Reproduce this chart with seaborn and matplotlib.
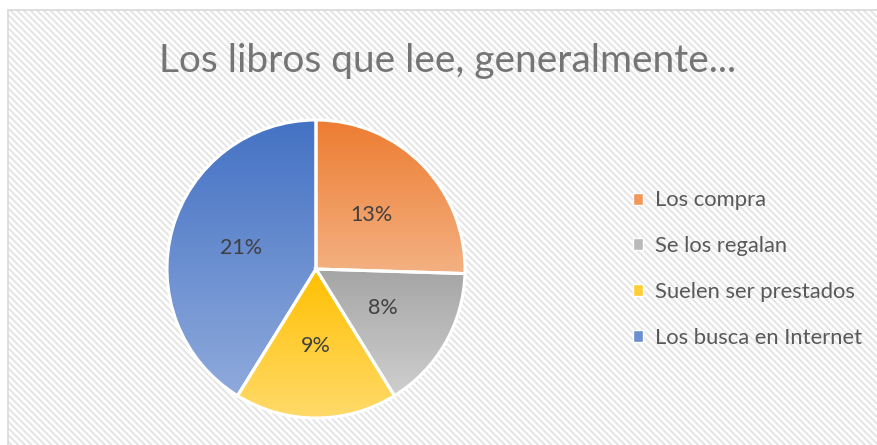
import numpy as np
import matplotlib
matplotlib.use("Agg")
import matplotlib.pyplot as plt
import seaborn as sns
from matplotlib.patches import Rectangle, Patch
from matplotlib.colors import to_rgb

# ---- data ----
categories = ["Los compra", "Se los regalan", "Suelen ser prestados", "Los busca en Internet"]
values = [13, 8, 9, 21]
title = "Los libros que lee, generalmente..."

top_colors = ["#ED7D31", "#A5A5A5", "#FFC000", "#4472C4"]
bottom_colors = ["#F4B183", "#CFCFCF", "#FFDA6A", "#8FAADC"]

sns.set_theme(style="white")
plt.rcParams["font.family"] = ["Lato", "DejaVu Sans"]
plt.rcParams["hatch.linewidth"] = 1.4

W, H = 877, 445
fig = plt.figure(figsize=(W / 100, H / 100), dpi=100)
fig.patch.set_facecolor("white")

# hatched background + border
bg = Rectangle((8 / W, -0.02), 1.05, 1 - 10 / H + 0.02, transform=fig.transFigure,
               facecolor="white", edgecolor="#e4e4e4", hatch="\\\\\\\\\\", linewidth=0, zorder=0)
fig.patches.append(bg)
border = Rectangle((8 / W, -0.02), 1.05, 1 - 10 / H + 0.02, transform=fig.transFigure,
                   facecolor="none", edgecolor="#d9d9d9", linewidth=1.2, zorder=1)
fig.patches.append(border)

# pie axes
cx, cy, r = 316, 269, 152
ax = fig.add_axes([(cx - r) / W, (H - cy - r) / H, 2 * r / W, 2 * r / H])
ax.set_zorder(5)
ax.set_facecolor("none")
ax.patch.set_alpha(0)

total = sum(values)
wedges, texts, autotexts = ax.pie(
    values, startangle=90, counterclock=False, radius=1,
    colors=top_colors,
    autopct=lambda p: f"{round(p * total / 100)}%", pctdistance=0.52,
    wedgeprops=dict(edgecolor="white", linewidth=2.2),
    textprops=dict(color="#404040", fontsize=15.5),
)
ax.set_aspect("equal")
ax.axis("off")

for w, ct, cb in zip(wedges, top_colors, bottom_colors):
    verts = w.get_path().vertices
    verts = w.get_patch_transform().transform(verts)
    x0, x1 = verts[:, 0].min(), verts[:, 0].max()
    y0, y1 = verts[:, 1].min(), verts[:, 1].max()
    t = np.linspace(0, 1, 256)[:, None]
    c0 = np.array(to_rgb(ct))
    c1 = np.array(to_rgb(cb))
    grad = (c0[None, :] * (1 - t) + c1[None, :] * t)[:, None, :]
    im = ax.imshow(grad, extent=[x0, x1, y0, y1], origin="upper", aspect="auto",
                   zorder=1, interpolation="bilinear")
    im.set_clip_path(w)
    w.set_facecolor("none")
    w.set_zorder(2)
for at in autotexts:
    at.set_zorder(3)
ax.set_xlim(-1.02, 1.02)
ax.set_ylim(-1.02, 1.02)

fig.text(448 / W, 1 - 61 / H, title, ha="center", va="center",
         fontsize=28, color="#757575", zorder=6)

mid_colors = [tuple((np.array(to_rgb(a)) + np.array(to_rgb(b))) / 2) for a, b in zip(top_colors, bottom_colors)]
handles = [Patch(facecolor=c, edgecolor="white", linewidth=1) for c in mid_colors]
leg = fig.legend(handles, categories, loc="center left",
                 bbox_to_anchor=(633 / W, 1 - 269 / H), frameon=False,
                 fontsize=15.8, labelcolor="#595959", handlelength=0.45, handleheight=0.45,
                 handletextpad=0.55, labelspacing=1.17, borderpad=0, borderaxespad=0)
leg.set_zorder(6)

fig.savefig("out.png", dpi=100)
